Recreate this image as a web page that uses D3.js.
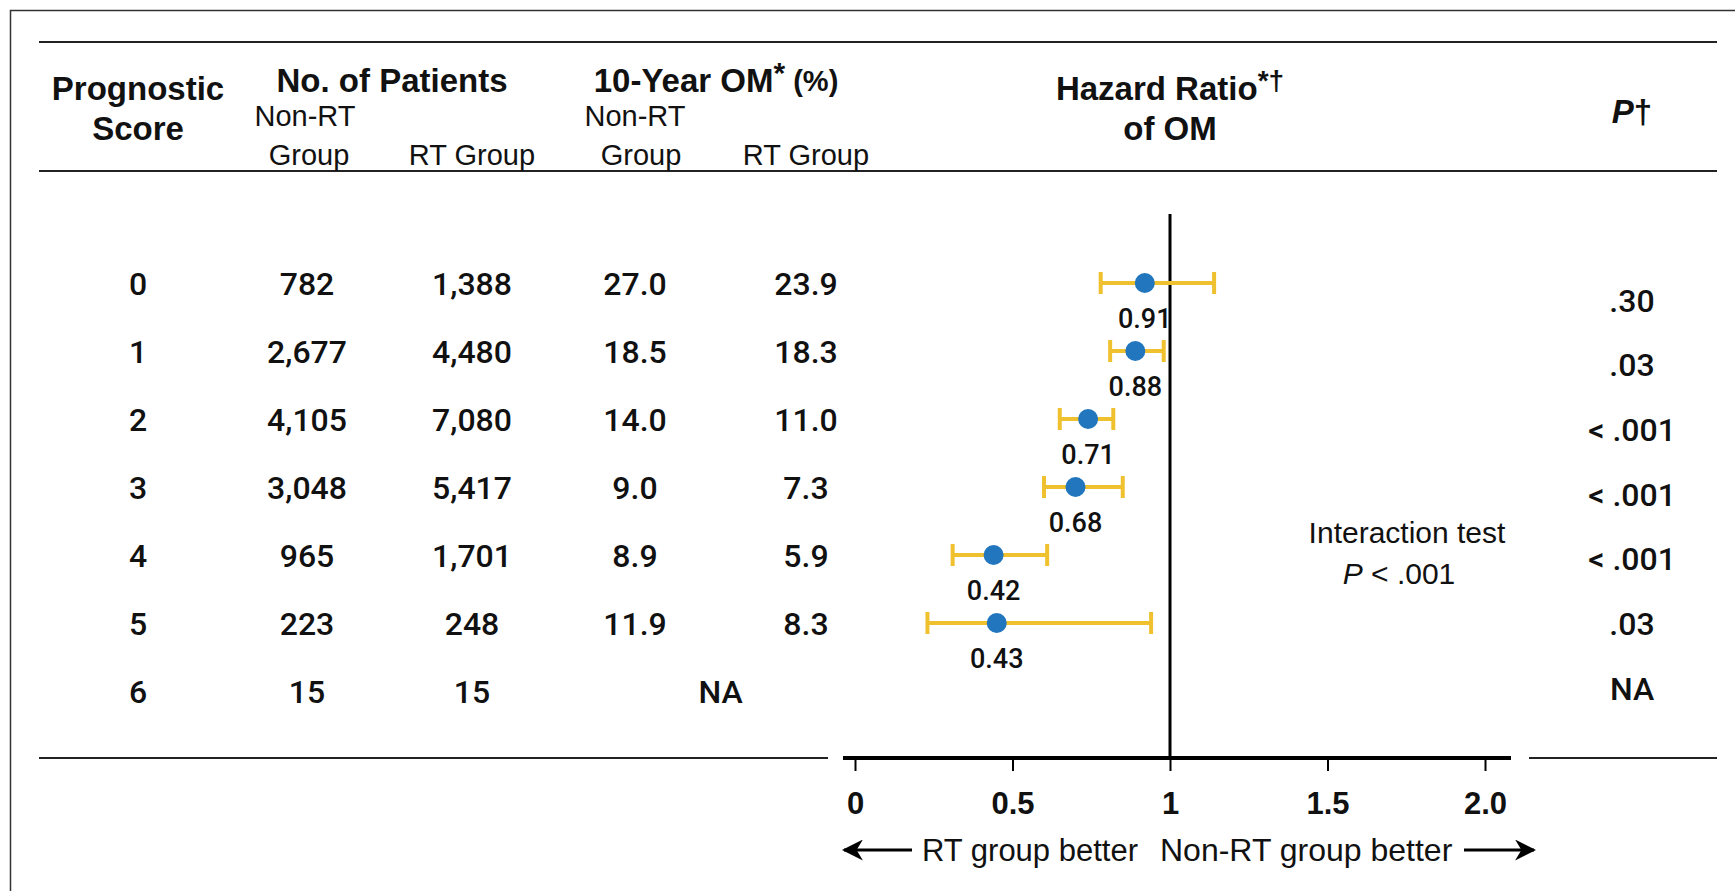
<!DOCTYPE html>
<html>
<head>
<meta charset="utf-8">
<script src="https://cdn.jsdelivr.net/npm/d3@7"></script>
<style>
	body { margin: 0; background: #fff; }
	svg { display: block; font-family: 'Liberation Sans', Arial, sans-serif; }
	.num { font-family: Roboto, 'Liberation Sans', Arial, sans-serif; font-weight: 500; }
</style>
</head>
<body>
<div id="chart"></div>
<script>
// Table values
const scores = ['0', '1', '2', '3', '4', '5', '6'];
const nonRtPatients = ['782', '2,677', '4,105', '3,048', '965', '223', '15'];
const rtPatients = ['1,388', '4,480', '7,080', '5,417', '1,701', '248', '15'];
const omNonRt = ['27.0', '18.5', '14.0', '9.0', '8.9', '11.9', null];
const omRt = ['23.9', '18.3', '11.0', '7.3', '5.9', '8.3', null];
const pValues = ['.30', '.03', '< .001', '< .001', '< .001', '.03', 'NA'];

// Forest plot values (scores 0-5)
const hrLabels = ['0.91', '0.88', '0.71', '0.68', '0.42', '0.43'];
const hrPoint = [0.92, 0.89, 0.74, 0.7, 0.44, 0.45];
const ciLow = [0.78, 0.81, 0.65, 0.6, 0.31, 0.23];
const ciHigh = [1.14, 0.98, 0.82, 0.85, 0.61, 0.94];

const tickValues = [0, 0.5, 1, 1.5, 2];
const tickLabels = ['0', '0.5', '1', '1.5', '2.0'];

const width = 1735;
const height = 891;
const gold = '#efc12f';
const blue = '#2176be';

const svg = d3.select('#chart')
	.append('svg')
	.attr('width', width)
	.attr('height', height)
	.attr('viewBox', [0, 0, width, height]);

// frame running off the page on the right and bottom
svg.append('rect')
	.attr('x', 10.5).attr('y', 10.5)
	.attr('width', width + 20).attr('height', height + 20)
	.attr('fill', 'none')
	.attr('stroke', '#333')
	.attr('stroke-width', 1.5);

// scales
const y = d3.scalePoint().domain(scores).range([283, 691]);
const yP = d3.scalePoint().domain(scores).range([300, 688]);
const x = d3.scaleLinear().domain([0, 2]).range([855, 1485]);

const col = { score: 138, nonRt: 307, rt: 472, omNonRt: 635, omRt: 806, p: 1632 };

// rules
const rule = (x1, x2, yy, w) => svg.append('line')
	.attr('x1', x1).attr('x2', x2).attr('y1', yy).attr('y2', yy)
	.attr('stroke', '#222').attr('stroke-width', w);
rule(39, 1717, 42, 2);
rule(39, 1717, 171, 2);
rule(39, 828, 758, 2);
rule(1529, 1717, 758, 2);

// headers
function label(tx, ty, str, size, weight, anchor) {
	return svg.append('text')
		.attr('x', tx).attr('y', ty)
		.attr('dy', '0.35em')
		.attr('text-anchor', anchor || 'middle')
		.style('font-size', size + 'px')
		.style('font-weight', weight || 'normal')
		.style('fill', '#111')
		.text(str);
}

label(col.score, 88, 'Prognostic', 33, 'bold');
label(col.score, 128, 'Score', 33, 'bold');
label(392, 80, 'No. of Patients', 33, 'bold');
label(305, 116, 'Non-RT', 29);
label(309, 155, 'Group', 29);
label(col.rt, 155, 'RT Group', 29);

const omHead = label(716, 80, '10-Year OM', 33, 'bold');
omHead.append('tspan').attr('dy', '-0.3em').style('font-size', '30px').text('*');
omHead.append('tspan').attr('dy', '0.3em').style('font-size', '29px').text(' (%)');
label(635, 116, 'Non-RT', 29);
label(641, 155, 'Group', 29);
label(col.omRt, 155, 'RT Group', 29);

const hrHead = label(x(1), 88, 'Hazard Ratio', 33, 'bold');
hrHead.append('tspan').attr('dy', '-0.35em').style('font-size', '28px').text('*†');
label(x(1), 128, 'of OM', 33, 'bold');

const pHead = label(col.p, 111, '', 33, 'bold');
pHead.append('tspan').style('font-style', 'italic').text('P');
pHead.append('tspan').text('†');

// table body
const body = svg.append('g').attr('class', 'table-body');
const columns = [
	[col.score, scores],
	[col.nonRt, nonRtPatients],
	[col.rt, rtPatients],
	[col.omNonRt, omNonRt],
	[col.omRt, omRt]
];
columns.forEach(([cx, values]) => {
	body.selectAll(null)
		.data(values.map((v, i) => ({ v, s: scores[i] })).filter((d) => d.v !== null))
		.enter()
		.append('text')
		.attr('class', 'num')
		.attr('x', cx)
		.attr('y', (d) => y(d.s))
		.attr('dy', '0.36em')
		.attr('text-anchor', 'middle')
		.style('font-size', '32px')
		.style('fill', '#111')
		.text((d) => d.v);
});
// NA spanning both OM columns for score 6
body.append('text')
	.attr('class', 'num')
	.attr('x', (col.omNonRt + col.omRt) / 2)
	.attr('y', y('6'))
	.attr('dy', '0.36em')
	.attr('text-anchor', 'middle')
	.style('font-size', '32px')
	.style('fill', '#111')
	.text('NA');

// P values
body.selectAll(null)
	.data(pValues)
	.enter()
	.append('text')
	.attr('class', 'num')
	.attr('x', col.p)
	.attr('y', (d, i) => yP(scores[i]))
	.attr('dy', '0.36em')
	.attr('text-anchor', 'middle')
	.style('font-size', '32px')
	.style('fill', '#111')
	.text((d) => d);

// reference line at HR = 1
svg.append('line')
	.attr('x1', x(1)).attr('x2', x(1))
	.attr('y1', 214).attr('y2', 758)
	.attr('stroke', '#000').attr('stroke-width', 3);

// axis
svg.append('line')
	.attr('x1', x(0) - 12).attr('x2', x(2) + 26)
	.attr('y1', 758).attr('y2', 758)
	.attr('stroke', '#000').attr('stroke-width', 4);

const axis = svg.append('g')
	.attr('transform', 'translate(0,758)')
	.call(d3.axisBottom(x)
		.tickValues(tickValues)
		.tickFormat((d, i) => tickLabels[i])
		.tickSize(13));
axis.select('.domain').remove();
axis.selectAll('.tick line').attr('stroke', '#000').attr('stroke-width', 2);
axis.selectAll('.tick text')
	.attr('y', 45)
	.attr('dy', '0.35em')
	.style('font-family', "'Liberation Sans', Arial, sans-serif")
	.style('font-size', '31px')
	.style('font-weight', 'bold')
	.style('fill', '#111');

// forest rows
const rows = hrLabels.map((lab, i) => ({
	s: scores[i], lab, hr: hrPoint[i], lo: ciLow[i], hi: ciHigh[i]
}));
const fg = svg.append('g').selectAll('g')
	.data(rows)
	.enter()
	.append('g')
	.attr('transform', (d) => 'translate(0,' + y(d.s) + ')');

fg.append('line')
	.attr('x1', (d) => x(d.lo)).attr('x2', (d) => x(d.hi))
	.attr('stroke', gold).attr('stroke-width', 4);
fg.append('line')
	.attr('x1', (d) => x(d.lo)).attr('x2', (d) => x(d.lo))
	.attr('y1', -11).attr('y2', 11)
	.attr('stroke', gold).attr('stroke-width', 4);
fg.append('line')
	.attr('x1', (d) => x(d.hi)).attr('x2', (d) => x(d.hi))
	.attr('y1', -11).attr('y2', 11)
	.attr('stroke', gold).attr('stroke-width', 4);
fg.append('circle')
	.attr('cx', (d) => x(d.hr))
	.attr('r', 10)
	.attr('fill', blue);
fg.append('text')
	.attr('class', 'num')
	.attr('x', (d) => x(d.hr))
	.attr('y', 35)
	.attr('dy', '0.36em')
	.attr('text-anchor', 'middle')
	.style('font-size', '27px')
	.style('fill', '#111')
	.text((d) => d.lab);

// interaction test note
label(1407, 532, 'Interaction test', 30);
const pNote = label(1399, 573, '', 30);
pNote.append('tspan').style('font-style', 'italic').text('P');
pNote.append('tspan').text(' < .001');

// direction labels with arrows
svg.append('defs').append('marker')
	.attr('id', 'head')
	.attr('viewBox', '0 0 10 10')
	.attr('refX', 9).attr('refY', 5)
	.attr('markerWidth', 7).attr('markerHeight', 7)
	.attr('markerUnits', 'strokeWidth')
	.attr('orient', 'auto-start-reverse')
	.append('path')
	.attr('d', 'M0,0 L10,5 L0,10 L3,5 Z')
	.attr('fill', '#000');

const arrowY = 850;
label(1138, arrowY, 'RT group better', 31, 'normal', 'end');
label(1160, arrowY, 'Non-RT group better', 32, 'normal', 'start');
svg.append('line')
	.attr('x1', 912).attr('x2', 844)
	.attr('y1', arrowY).attr('y2', arrowY)
	.attr('stroke', '#000').attr('stroke-width', 3)
	.attr('marker-end', 'url(#head)');
svg.append('line')
	.attr('x1', 1464).attr('x2', 1534)
	.attr('y1', arrowY).attr('y2', arrowY)
	.attr('stroke', '#000').attr('stroke-width', 3)
	.attr('marker-end', 'url(#head)');
</script>
</body>
</html>
